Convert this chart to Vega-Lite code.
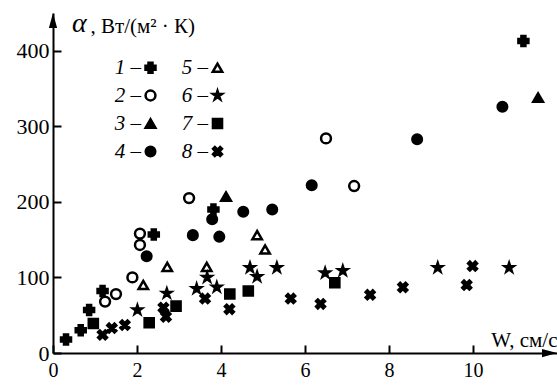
{
  "$schema": "https://vega.github.io/schema/vega-lite/v6.json",
  "width": 504,
  "height": 340,
  "autosize": {"type": "none"},
  "padding": {"left": 53, "top": 13, "right": 0, "bottom": 37},
  "background": "white",
  "config": {"view": {"stroke": null}, "font": "Liberation Serif"},
  "title": {"text": "α", "fontStyle": "italic", "fontSize": 28, "fontWeight": "normal", "anchor": "start", "frame": "group", "offset": 0, "dx": 19, "dy": 47, "baseline": "alphabetic", "font": "Liberation Serif", "color": "black"},
  "layer": [
    {
      "data": {"values": [
        {"series": "1", "w": 0.31, "alpha": 18},
        {"series": "1", "w": 0.66, "alpha": 30},
        {"series": "1", "w": 0.86, "alpha": 57},
        {"series": "1", "w": 1.18, "alpha": 82},
        {"series": "1", "w": 2.40, "alpha": 157},
        {"series": "1", "w": 3.82, "alpha": 190},
        {"series": "1", "w": 11.2, "alpha": 413},
        {"series": "2", "w": 1.24, "alpha": 68},
        {"series": "2", "w": 1.50, "alpha": 78},
        {"series": "2", "w": 1.89, "alpha": 100},
        {"series": "2", "w": 2.07, "alpha": 143},
        {"series": "2", "w": 2.07, "alpha": 158},
        {"series": "2", "w": 3.24, "alpha": 205},
        {"series": "2", "w": 6.50, "alpha": 284},
        {"series": "2", "w": 7.17, "alpha": 221},
        {"series": "3", "w": 4.12, "alpha": 207},
        {"series": "3", "w": 11.55, "alpha": 338},
        {"series": "4", "w": 2.23, "alpha": 128},
        {"series": "4", "w": 3.33, "alpha": 156},
        {"series": "4", "w": 3.79, "alpha": 177},
        {"series": "4", "w": 3.96, "alpha": 154},
        {"series": "4", "w": 4.53, "alpha": 187},
        {"series": "4", "w": 5.22, "alpha": 190},
        {"series": "4", "w": 6.16, "alpha": 222},
        {"series": "4", "w": 8.67, "alpha": 283},
        {"series": "4", "w": 10.70, "alpha": 326},
        {"series": "5", "w": 2.15, "alpha": 90},
        {"series": "5", "w": 2.72, "alpha": 114},
        {"series": "5", "w": 3.66, "alpha": 114},
        {"series": "5", "w": 4.86, "alpha": 156},
        {"series": "5", "w": 5.05, "alpha": 137},
        {"series": "6", "w": 2.01, "alpha": 57},
        {"series": "6", "w": 2.71, "alpha": 79},
        {"series": "6", "w": 3.42, "alpha": 85},
        {"series": "6", "w": 3.67, "alpha": 100},
        {"series": "6", "w": 3.90, "alpha": 87},
        {"series": "6", "w": 4.69, "alpha": 113},
        {"series": "6", "w": 4.86, "alpha": 101},
        {"series": "6", "w": 5.33, "alpha": 113},
        {"series": "6", "w": 6.48, "alpha": 106},
        {"series": "6", "w": 6.90, "alpha": 109},
        {"series": "6", "w": 9.16, "alpha": 113},
        {"series": "6", "w": 10.86, "alpha": 113},
        {"series": "7", "w": 0.96, "alpha": 39},
        {"series": "7", "w": 2.29, "alpha": 40},
        {"series": "7", "w": 2.93, "alpha": 62},
        {"series": "7", "w": 4.21, "alpha": 78},
        {"series": "7", "w": 4.65, "alpha": 82},
        {"series": "7", "w": 6.71, "alpha": 93},
        {"series": "8", "w": 1.18, "alpha": 24},
        {"series": "8", "w": 1.40, "alpha": 33},
        {"series": "8", "w": 1.71, "alpha": 37},
        {"series": "8", "w": 2.63, "alpha": 60},
        {"series": "8", "w": 2.69, "alpha": 48},
        {"series": "8", "w": 3.62, "alpha": 72},
        {"series": "8", "w": 4.20, "alpha": 58},
        {"series": "8", "w": 5.66, "alpha": 72},
        {"series": "8", "w": 6.37, "alpha": 65},
        {"series": "8", "w": 7.55, "alpha": 77},
        {"series": "8", "w": 8.33, "alpha": 87},
        {"series": "8", "w": 9.85, "alpha": 90},
        {"series": "8", "w": 9.99, "alpha": 115}
      ]},
      "mark": {"type": "point", "filled": true, "strokeWidth": 2.5, "opacity": 1},
      "encoding": {
        "x": {"field": "w", "type": "quantitative", "scale": {"domain": [0, 12], "nice": false},
          "axis": {"values": [0, 2, 4, 6, 8, 10], "tickSize": -8, "tickColor": "black", "tickWidth": 2, "domainColor": "black", "domainWidth": 2, "labelFont": "Liberation Serif", "labelFontSize": 20, "labelColor": "black", "labelPadding": 15, "labelFlush": false, "labelOverlap": false, "grid": false,
            "title": "W, см/с", "titleFont": "Liberation Serif", "titleFontSize": 21, "titleFontWeight": "normal", "titleColor": "black", "titleAlign": "right", "titleX": 504, "titleY": -7, "titleBaseline": "alphabetic"}},
        "y": {"field": "alpha", "type": "quantitative", "scale": {"domain": [0, 450], "nice": false},
          "axis": {"values": [0, 100, 200, 300, 400], "tickSize": -8, "tickColor": "black", "tickWidth": 2, "domainColor": "black", "domainWidth": 2, "labelFont": "Liberation Serif", "labelFontSize": 22, "labelColor": "black", "labelPadding": 12, "labelFlush": false, "labelOverlap": false, "grid": false,
            "title": ", Вт/(м² · К)", "titleFont": "Liberation Serif", "titleFontSize": 21, "titleFontWeight": "normal", "titleColor": "black", "titleAngle": 0, "titleAlign": "left", "titleX": 37, "titleY": 19, "titleBaseline": "alphabetic"}},
        "shape": {"field": "series", "type": "nominal",
          "scale": {"domain": ["1", "2", "3", "4", "5", "6", "7", "8"],
            "range": ["cross", "circle", "triangle-up", "circle", "triangle-up", "M0,-1L0.2245,-0.309L0.951,-0.309L0.363,0.118L0.588,0.809L0,0.382L-0.588,0.809L-0.363,0.118L-0.951,-0.309L-0.2245,-0.309Z", "square", "M-1,-0.6L-0.6,-1L0,-0.4L0.6,-1L1,-0.6L0.4,0L1,0.6L0.6,1L0,0.4L-0.6,1L-1,0.6L-0.4,0Z"]},
          "legend": {"orient": "none", "legendX": 87, "legendY": 44, "columns": 2, "columnPadding": 20, "rowPadding": 6, "title": null, "labelExpr": "datum.label + ' –'", "labelFont": "Liberation Serif", "labelFontSize": 21, "labelFontStyle": "italic", "labelColor": "black", "labelAlign": "right", "labelOffset": -20, "symbolStrokeWidth": 2.5}},
        "fill": {"field": "series", "type": "nominal",
          "scale": {"domain": ["1", "2", "3", "4", "5", "6", "7", "8"],
            "range": ["black", "white", "black", "black", "white", "black", "black", "black"]},
          "legend": {"orient": "none", "legendX": 87, "legendY": 44, "columns": 2, "columnPadding": 20, "rowPadding": 6, "title": null, "labelExpr": "datum.label + ' –'", "labelFont": "Liberation Serif", "labelFontSize": 21, "labelFontStyle": "italic", "labelColor": "black", "labelAlign": "right", "labelOffset": -20, "symbolStrokeWidth": 2.5}},
        "stroke": {"field": "series", "type": "nominal",
          "scale": {"domain": ["1", "2", "3", "4", "5", "6", "7", "8"],
            "range": ["black", "black", "black", "black", "black", "black", "black", "black"]},
          "legend": {"orient": "none", "legendX": 87, "legendY": 44, "columns": 2, "columnPadding": 20, "rowPadding": 6, "title": null, "labelExpr": "datum.label + ' –'", "labelFont": "Liberation Serif", "labelFontSize": 21, "labelFontStyle": "italic", "labelColor": "black", "labelAlign": "right", "labelOffset": -20, "symbolStrokeWidth": 2.5}},
        "size": {"field": "series", "type": "nominal",
          "scale": {"domain": ["1", "2", "3", "4", "5", "6", "7", "8"],
            "range": [100, 80, 140, 95, 125, 200, 110, 50]},
          "legend": {"orient": "none", "legendX": 87, "legendY": 44, "columns": 2, "columnPadding": 20, "rowPadding": 6, "title": null, "labelExpr": "datum.label + ' –'", "labelFont": "Liberation Serif", "labelFontSize": 21, "labelFontStyle": "italic", "labelColor": "black", "labelAlign": "right", "labelOffset": -20, "symbolStrokeWidth": 2.5}}
      }
    },
    {
      "data": {"values": [{"w": 12, "alpha": 0}]},
      "mark": {"type": "point", "shape": "M0,0L-2,-0.55L-2,0.55Z", "size": 225, "filled": true, "color": "black", "opacity": 1},
      "encoding": {"x": {"field": "w", "type": "quantitative"}, "y": {"field": "alpha", "type": "quantitative"}}
    },
    {
      "data": {"values": [{"w": 0, "alpha": 450}]},
      "mark": {"type": "point", "shape": "M0,0L-0.55,2L0.55,2Z", "size": 225, "filled": true, "color": "black", "opacity": 1},
      "encoding": {"x": {"field": "w", "type": "quantitative"}, "y": {"field": "alpha", "type": "quantitative"}}
    }
  ]
}
